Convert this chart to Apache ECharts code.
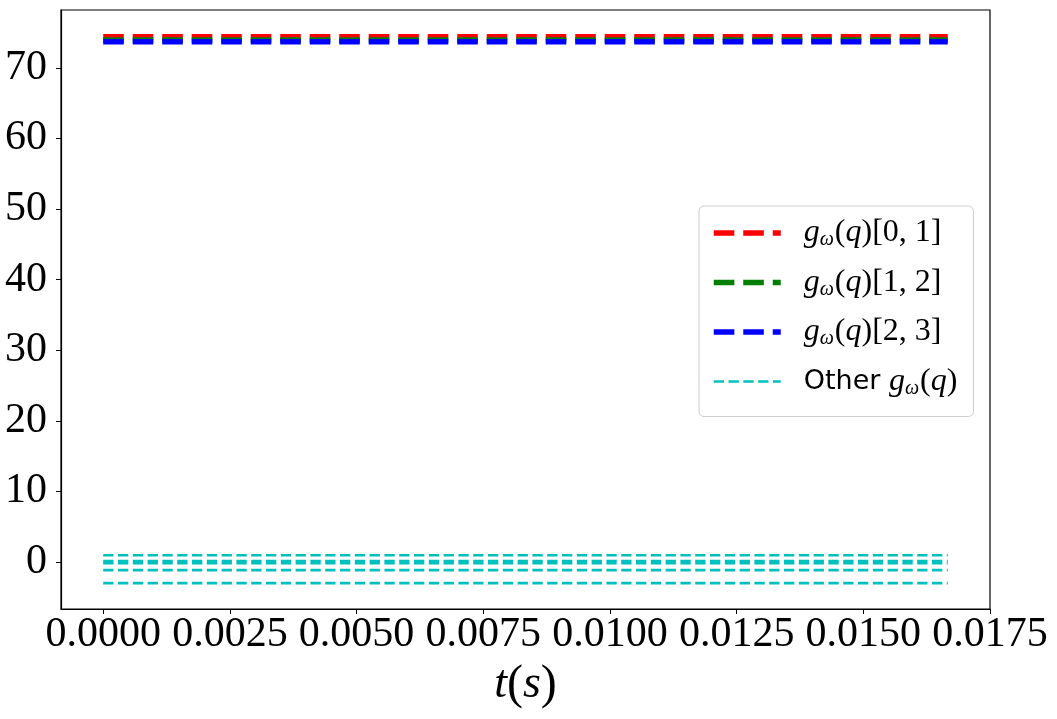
<!DOCTYPE html>
<html>
<head>
<meta charset="utf-8">
<script src="https://cdn.jsdelivr.net/npm/echarts@6/dist/echarts.min.js"></script>
<style>
html,body{margin:0;padding:0;background:#fff;}
#chart{width:1057px;height:719px;}
</style>
</head>
<body>
<div id="chart"></div>
<script>
// ---- data ----
const timeValues = [0, 0.0166667];
const mainNames = ['gω(q)[0, 1]', 'gω(q)[1, 2]', 'gω(q)[2, 3]'];
const mainValues = [74.4, 73.95, 73.7];
const mainColors = ['#ff0000', '#008000', '#0000ff'];
const otherName = 'Other gω(q)';
const otherValues = [0.95, 0.15, -0.18, -1.15, -3.0];
const otherColor = '#00bfbf';
const xTicks = [0, 0.0025, 0.005, 0.0075, 0.01, 0.0125, 0.015, 0.0175];
const yTicks = [0, 10, 20, 30, 40, 50, 60, 70];

const serif = 'Liberation Serif';
const mainDash = [20.6, 8.9];
const otherDash = [10.3, 4.5];
const series = [];
mainNames.forEach((n, i) => {
  series.push({
    name: n, type: 'line', symbol: 'none', silent: true,
    data: timeValues.map(t => [t, mainValues[i]]),
    lineStyle: { color: mainColors[i], width: 5.5, type: mainDash, cap: 'butt' },
    itemStyle: { color: mainColors[i] },
    z: 3 + i
  });
});
otherValues.forEach(v => {
  series.push({
    name: otherName, type: 'line', symbol: 'none', silent: true,
    data: timeValues.map(t => [t, v]),
    lineStyle: { color: otherColor, width: 2.6, type: otherDash, cap: 'butt' },
    itemStyle: { color: otherColor },
    z: 2
  });
});

const legendRich = {
  i: { fontFamily: serif, fontStyle: 'italic', fontSize: 32, color: '#000', lineHeight: 36 },
  s: { fontFamily: serif, fontStyle: 'italic', fontSize: 20, color: '#000', padding: [14, 1, 0, 0], lineHeight: 36 },
  n: { fontFamily: serif, fontSize: 32, color: '#000', lineHeight: 36 },
  o: { fontFamily: 'DejaVu Sans', fontSize: 27, color: '#000', lineHeight: 36 }
};
function legendFmt(name) {
  if (name === otherName) return '{o|Other }{i|g}{s|ω}{n|(}{i|q}{n|)}';
  const rest = name.replace('gω(q)', '');
  return '{i|g}{s|ω}{n|(}{i|q}{n|)' + rest + '}';
}
const legendData = mainNames.map(n => ({ name: n, lineStyle: { width: 5.5, type: mainDash } }))
  .concat([{ name: otherName, lineStyle: { width: 2.6, type: otherDash } }]);

const chart = echarts.init(document.getElementById('chart'), null, { renderer: 'canvas' });
chart.setOption({
  animation: false,
  backgroundColor: '#fff',
  grid: { left: 61, top: 10, right: 67, bottom: 110, show: true, borderColor: '#000', borderWidth: 1.2, backgroundColor: 'transparent' },
  xAxis: {
    type: 'value', min: -0.000833, max: 0.0175,
    name: '{i|t}{n|(}{i|s}{n|)}', nameLocation: 'middle', nameGap: 52,
    nameTextStyle: { rich: {
      i: { fontFamily: serif, fontStyle: 'italic', fontSize: 46, color: '#000' },
      n: { fontFamily: serif, fontSize: 48, color: '#000' } } },
    axisLine: { show: true, onZero: false, lineStyle: { color: '#000', width: 1.2 } },
    axisTick: { show: true, inside: false, length: 5, lineStyle: { color: '#000', width: 1 }, customValues: xTicks },
    axisLabel: { customValues: xTicks, formatter: v => v.toFixed(4), fontFamily: serif, fontSize: 42, color: '#000', margin: 5, showMinLabel: true, showMaxLabel: true },
    splitLine: { show: false }
  },
  yAxis: {
    type: 'value', min: -6.66, max: 78.2,
    axisLine: { show: true, onZero: false, lineStyle: { color: '#000', width: 1.2 } },
    axisTick: { show: true, inside: false, length: 5, lineStyle: { color: '#000', width: 1 }, customValues: yTicks },
    axisLabel: { customValues: yTicks, formatter: v => String(v), fontFamily: serif, fontSize: 42, color: '#000', margin: 14 },
    splitLine: { show: false }
  },
  legend: {
    data: legendData,
    orient: 'vertical', left: 699, top: 206,
    padding: [10, 16, 18, 12],
    itemWidth: 67, itemHeight: 12, itemGap: 15.5,
    backgroundColor: 'rgba(255,255,255,0.8)', borderColor: '#cccccc', borderWidth: 1, borderRadius: 5,
    itemStyle: { opacity: 0, borderWidth: 0 },
    formatter: legendFmt,
    textStyle: { rich: legendRich, padding: [0, 0, 0, 18] },
    selectedMode: false
  },
  series: series
});
</script>
</body>
</html>
